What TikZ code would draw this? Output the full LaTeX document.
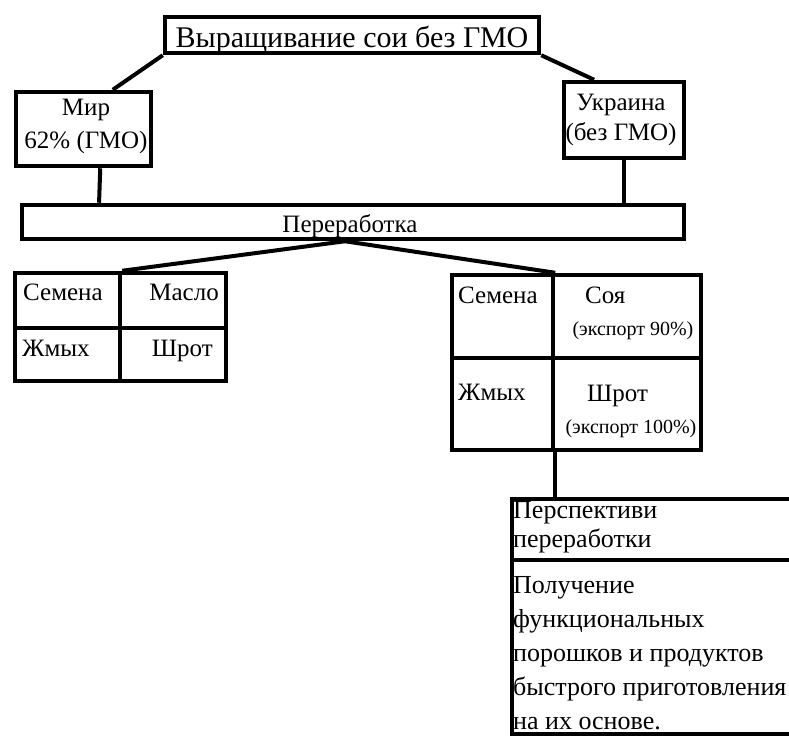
\documentclass[tikz,border=0pt]{standalone}
\usepackage{fontspec}
\setmainfont{Liberation Serif}
\usetikzlibrary{calc,positioning}
\begin{document}
\begin{tikzpicture}[x=1pt,y=-1pt,
  box/.style={draw,line width=4.5pt,inner sep=0pt,align=center},
  cell/.style={draw,line width=4.5pt,inner sep=0pt},
  link/.style={line width=4pt},
  big/.style={inner sep=0pt,font=\fontsize{30}{32}\selectfont},
  txt/.style={inner sep=0pt,font=\fontsize{25}{30}\selectfont},
  small/.style={inner sep=0pt,font=\fontsize{20}{22}\selectfont},
  note/.style={inner sep=0pt,align=left,anchor=north west}]
\useasboundingbox (0,0) rectangle (789,736);
% boxes
\node[box,minimum width=374pt,minimum height=36pt] (grow) at (352,35) {};
\node[box,minimum width=135pt,minimum height=74pt] (world) at (83.5,129) {};
\node[box,minimum width=120pt,minimum height=76pt] (ukr) at (624,120) {};
\node[box,minimum width=662pt,minimum height=34pt] (proc) at (353,222) {};
% left table
\node[cell,minimum width=105pt,minimum height=55pt] (ltl) at (67.5,300.5) {};
\node[cell,minimum width=106pt,minimum height=55pt] (ltr) at (173,300.5) {};
\node[cell,minimum width=105pt,minimum height=53pt] (lbl) at (67.5,354.5) {};
\node[cell,minimum width=106pt,minimum height=53pt] (lbr) at (173,354.5) {};
% right table
\node[cell,minimum width=101pt,minimum height=83pt] (rtl) at (502.5,316.5) {};
\node[cell,minimum width=148pt,minimum height=83pt] (rtr) at (627,316.5) {};
\node[cell,minimum width=101pt,minimum height=92pt] (rbl) at (502.5,404) {};
\node[cell,minimum width=148pt,minimum height=92pt] (rbr) at (627,404) {};
% perspectives
\node[cell,minimum width=298pt,minimum height=61pt] (phead) at (661,529.5) {};
\node[cell,minimum width=298pt,minimum height=174pt] (pbody) at (661,647) {};
% texts
\node[big,anchor=base] (tgrow) at (352,47) {Выращивание сои без ГМО};
\node[txt,anchor=base] (tworld1) at (86,115) {Мир};
\node[txt,anchor=base] (tworld2) at (86,148) {62\% (ГМО)};
\node[txt,anchor=base] (tukr1) at (621,110) {Украина};
\node[txt,anchor=base] (tukr2) at (621,140) {(без ГМО)};
\node[txt,anchor=base] (tproc) at (350,232) {Переработка};
\node[txt,anchor=base west] (lseed) at (23,300) {Семена};
\node[txt,anchor=base east] (loil) at (219,300) {Масло};
\node[txt,anchor=base west] (lcake) at (22,356) {Жмых};
\node[txt,anchor=base east] (lmeal) at (213,356) {Шрот};
\node[txt,anchor=base west] (rseed) at (458,303) {Семена};
\node[txt,anchor=base west] (rsoy) at (585,303) {Соя};
\node[small,anchor=base] (rsoyx) at (633,335) {(экспорт 90\%)};
\node[txt,anchor=base west] (rcake) at (458,400) {Жмых};
\node[txt,anchor=base west] (rmeal) at (587,401) {Шрот};
\node[small,anchor=base] (rmealx) at (631,433) {(экспорт 100\%)};
\node[note,font=\fontsize{26}{29}\selectfont] (thead) at (513,501) {Перспективи\\переработки};
\node[note,font=\fontsize{26}{34}\selectfont] (tbody) at (513,576) {Получение\\функциональных\\порошков и продуктов\\быстрого приготовления\\на их основе.};
% links
\draw[link] (grow.south west) -- ($(world.north west)!0.71!(world.north east)$);
\draw[link] (grow.south east) -- ($(ukr.north west)!0.26!(ukr.north east)$);
\draw[link] ($(world.south west)!0.62!(world.south east)$) -- ($(proc.north west)!0.119!(proc.north east)$);
\draw[link] (ukr.south) -- (ukr.south |- proc.north);
\draw[link] ($(proc.south)+(-8,0)$) -- (ltl.north east);
\draw[link] ($(proc.south)+(-8,0)$) -- (rtl.north east);
\draw[link] (rbl.south east) -- (phead.north west -| rbl.south east);
\end{tikzpicture}
\end{document}
